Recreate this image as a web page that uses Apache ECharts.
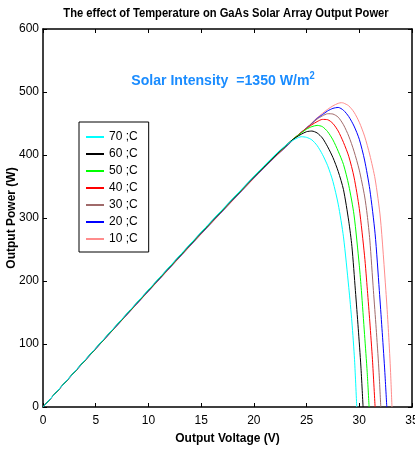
<!DOCTYPE html>
<html>
<head>
<meta charset="utf-8">
<script src="https://cdn.jsdelivr.net/npm/echarts@6/dist/echarts.min.js"></script>
<style>html,body{margin:0;padding:0;background:#fff;}#c{width:415px;height:452px;}</style>
</head>
<body>
<div id="c"></div>
<script>
// Legend labels (temperature)
var temps = ['70 ;C', '60 ;C', '50 ;C', '40 ;C', '30 ;C', '20 ;C', '10 ;C'];
// Axis ticks
var xTicks = [0, 5, 10, 15, 20, 25, 30, 35];
var yTicks = [0, 100, 200, 300, 400, 500, 600];

// [voltage V, power W]
var t70 = [[0,0],[5,93.5],[10,186],[15,277.5],[20,366],[22,400],[23,415],[23.5,421],[24,426],[24.5,429],[25,428],[25.5,424],[26,415],[26.5,401],[27,383],[27.5,358],[28,322],[28.5,270],[29,190],[29.3,135],[29.55,75],[29.76,0]];
var t60 = [[0,0],[5,93.3],[10,185.6],[15,277],[20,365.5],[22,399],[23,414.5],[23.5,422],[24,428],[24.5,433],[25,437],[25.5,438],[26,435],[26.5,427],[27,413],[27.5,396],[28,374],[28.5,345],[29,295],[29.3,255],[29.63,185],[29.9,125],[30.15,65],[30.36,0]];
var t50 = [[0,0],[5,93],[10,185.2],[15,276.5],[20,365],[22,398.5],[23,414],[23.5,422],[24,429],[24.5,435],[25,441],[25.5,445],[26,447],[26.5,445],[27,437],[27.5,424],[28,406],[28.5,385],[29,352],[29.5,305],[30,225],[30.2,185],[30.5,115],[30.75,55],[30.93,0]];
var t40 = [[0,0],[5,92.8],[10,184.8],[15,276],[20,364.5],[22,398],[23,413.5],[23.5,421.5],[24,429],[24.5,436],[25,442],[25.5,448],[26,453],[26.5,456.5],[27,456],[27.5,450],[28,438],[28.5,420],[29,398],[29.5,365],[30,315],[30.5,240],[30.77,185],[31,135],[31.25,75],[31.5,0]];
var t30 = [[0,0],[5,92.6],[10,184.4],[15,275.5],[20,364],[22,397.5],[23,413],[23.5,421],[24,429],[24.5,436],[25,443],[25.5,450],[26,457],[26.5,462],[27,465.5],[27.5,465],[28,460],[28.5,448],[29,430],[29.5,406],[30,376],[30.5,335],[30.75,305],[31,265],[31.34,185],[31.6,125],[31.85,62],[32.04,0]];
var t20 = [[0,0],[5,92.4],[10,184],[15,275],[20,363.5],[22,397],[23,412.5],[23.5,420.5],[24,428.5],[24.5,436],[25,443],[25.5,450],[26,458],[26.5,464],[27,470],[27.5,474],[28,475.5],[28.5,471],[29,461],[29.5,446],[30,425],[30.5,392],[31,345],[31.5,275],[31.9,185],[32.15,125],[32.4,62],[32.61,0]];
var t10 = [[0,0],[5,92.2],[10,183.6],[15,274.5],[20,363],[22,396.5],[23,412],[23.5,420],[24,428],[24.5,435.5],[25,443],[25.5,451],[26,459],[26.5,466],[27,472.5],[27.5,478],[28,482],[28.3,483],[28.5,482.5],[29,478],[29.5,468],[30,452],[30.5,430],[31,400],[31.5,362],[32,300],[32.52,185],[32.75,125],[32.95,62],[33.1,0]];

var seriesData = [t70, t60, t50, t40, t30, t20, t10];
var colors = ['#00ffff', '#000000', '#00ff00', '#ff0000', '#a06a6a', '#0000ff', '#ff8c8c'];

var FONT = "'Liberation Sans', Arial, sans-serif";

var chart = echarts.init(document.getElementById('c'), null, {renderer: 'canvas'});

var tick = {show: true, inside: true, length: 4, lineStyle: {color: '#000', width: 1}};
function axisLine() { return {show: true, onZero: false, lineStyle: {color: '#000', width: 1.5}}; }

var option = {
  backgroundColor: '#fff',
  animation: false,
  grid: {left: 43, right: 3, top: 29, bottom: 45, containLabel: false, outerBoundsMode: 'none'},
  legend: {
    data: temps,
    orient: 'vertical',
    left: 79, top: 122,
    backgroundColor: '#fff',
    borderColor: '#000', borderWidth: 1,
    padding: [8, 11, 6, 7],
    itemWidth: 18, itemHeight: 2, itemGap: 3,
    icon: 'rect',
    textStyle: {fontFamily: FONT, fontSize: 12, color: '#000', lineHeight: 14}
  },
  xAxis: [{
    type: 'value', min: 0, max: 35, interval: 5,
    name: 'Output Voltage (V)', nameLocation: 'middle', nameGap: 26, nameMoveOverlap: false,
    nameTextStyle: {fontFamily: FONT, fontWeight: 'bold', fontSize: 12, color: '#000', verticalAlign: 'top'},
    axisLine: axisLine(), axisTick: tick,
    axisLabel: {fontFamily: FONT, fontSize: 12, color: '#000', margin: 8,
      formatter: function (v) { return xTicks.indexOf(v) >= 0 ? String(v) : ''; }},
    splitLine: {show: false}
  }, {
    type: 'value', min: 0, max: 35, interval: 5, position: 'top',
    axisLine: axisLine(), axisTick: tick, axisLabel: {show: false}, splitLine: {show: false}
  }],
  yAxis: [{
    type: 'value', min: 0, max: 600, interval: 100,
    name: 'Output Power (W)', nameLocation: 'middle', nameGap: 25, nameRotate: 90, nameMoveOverlap: false,
    nameTextStyle: {fontFamily: FONT, fontWeight: 'bold', fontSize: 12, color: '#000'},
    axisLine: axisLine(), axisTick: tick,
    axisLabel: {fontFamily: FONT, fontSize: 12, color: '#000', margin: 4,
      formatter: function (v) { return yTicks.indexOf(v) >= 0 ? String(v) : ''; }},
    splitLine: {show: false}
  }, {
    type: 'value', min: 0, max: 600, interval: 100, position: 'right',
    axisLine: axisLine(), axisTick: tick, axisLabel: {show: false}, splitLine: {show: false}
  }],
  graphic: [{
    type: 'text', x: 226, y: 13, scaleX: 0.86,
    style: {
      text: 'The effect of Temperature on GaAs Solar Array Output Power',
      fontFamily: FONT, fontWeight: 'bold', fontSize: 13, fill: '#000',
      align: 'center', verticalAlign: 'middle'
    }
  }, {
    type: 'text', x: 223, y: 80, scaleX: 0.94,
    style: {
      text: '{a|Solar Intensity  =1350 W/m}{s|2}',
      align: 'center', verticalAlign: 'middle',
      rich: {
        a: {fontFamily: FONT, fontWeight: 'bold', fontSize: 15, fill: '#1a8cff', verticalAlign: 'bottom'},
        s: {fontFamily: FONT, fontWeight: 'bold', fontSize: 10, fill: '#1a8cff', verticalAlign: 'top', padding: [0,0,7,0]}
      }
    }
  }],
  series: temps.map(function (name, i) {
    return {
      name: name, type: 'line', data: seriesData[i],
      xAxisIndex: 0, yAxisIndex: 0,
      showSymbol: false, symbol: 'none', smooth: 0.25,
      lineStyle: {color: colors[i], width: 1},
      itemStyle: {color: colors[i]},
      z: 10 - i
    };
  })
};
chart.setOption(option);
</script>
</body>
</html>
